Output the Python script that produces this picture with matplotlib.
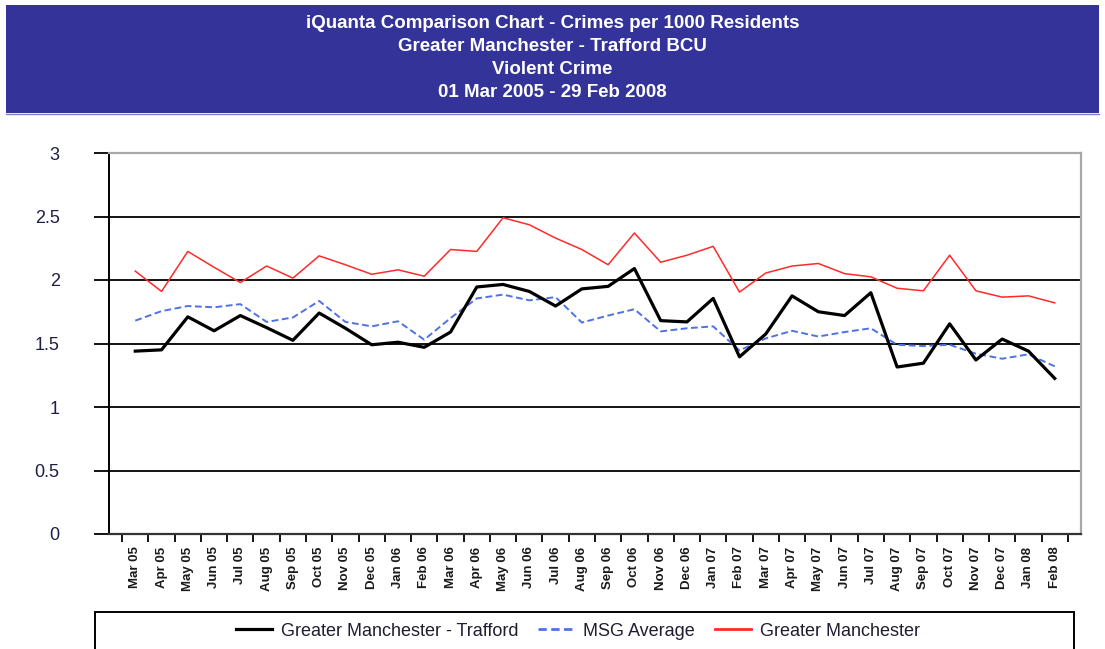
#!/usr/bin/env python3
"""
iQuanta comparison chart - violent crimes per 1000 residents, Trafford BCU
"""
import matplotlib
matplotlib.use("Agg")
import matplotlib.pyplot as plt
from matplotlib.patches import Rectangle
from matplotlib.lines import Line2D

plt.rcParams['font.family'] = ['Liberation Sans', 'DejaVu Sans']

months = ["Mar 05", "Apr 05", "May 05", "Jun 05", "Jul 05", "Aug 05", "Sep 05", "Oct 05",
          "Nov 05", "Dec 05", "Jan 06", "Feb 06", "Mar 06", "Apr 06", "May 06", "Jun 06",
          "Jul 06", "Aug 06", "Sep 06", "Oct 06", "Nov 06", "Dec 06", "Jan 07", "Feb 07",
          "Mar 07", "Apr 07", "May 07", "Jun 07", "Jul 07", "Aug 07", "Sep 07", "Oct 07",
          "Nov 07", "Dec 07", "Jan 08", "Feb 08"]

trafford = [1.44, 1.45, 1.71, 1.60, 1.72, 1.625, 1.525, 1.74, 1.62, 1.49, 1.51, 1.47,
            1.59, 1.945, 1.965, 1.91, 1.795, 1.93, 1.95, 2.09, 1.68, 1.67, 1.855, 1.395,
            1.575, 1.875, 1.75, 1.72, 1.90, 1.315, 1.345, 1.655, 1.37, 1.535, 1.44, 1.225]

msg_average = [1.68, 1.755, 1.795, 1.785, 1.81, 1.67, 1.705, 1.835, 1.67, 1.635, 1.675, 1.53,
               1.70, 1.855, 1.885, 1.84, 1.865, 1.665, 1.72, 1.77, 1.595, 1.62, 1.635, 1.445,
               1.54, 1.60, 1.555, 1.59, 1.62, 1.49, 1.48, 1.49, 1.42, 1.38, 1.415, 1.32]

greater_manchester = [2.07, 1.91, 2.225, 2.10, 1.98, 2.11, 2.015, 2.19, 2.12, 2.045, 2.08, 2.03,
                      2.24, 2.225, 2.49, 2.435, 2.33, 2.24, 2.12, 2.37, 2.14, 2.195, 2.265, 1.905,
                      2.055, 2.11, 2.13, 2.05, 2.025, 1.935, 1.915, 2.195, 1.915, 1.865, 1.875, 1.82]

title_lines = ["iQuanta Comparison Chart - Crimes per 1000 Residents",
               "Greater Manchester - Trafford BCU",
               "Violent Crime",
               "01 Mar 2005 - 29 Feb 2008"]

W, H = 1105, 649
fig = plt.figure(figsize=(W / 100, H / 100), dpi=100)

# title banner
fig.patches.append(Rectangle((6 / W, 1 - 113 / H), 1093 / W, 108 / H,
                             transform=fig.transFigure, facecolor='#333399',
                             edgecolor='none', zorder=0))
fig.add_artist(Line2D([6 / W, 1099 / W], [1 - 113.5 / H] * 2, color='#8282c0', lw=1))
for i, line in enumerate(title_lines):
    fig.text(0.5, 1 - (24 + 22.7 * i) / H, line, color='white', fontsize=13.5,
             fontweight='bold', ha='center', va='center')

ax = fig.add_axes([109 / W, 1 - 534 / H, 972 / W, 381 / H])
x = list(range(len(months)))

ax.plot(x, greater_manchester, color='#ff2a2a', lw=1.1, zorder=3)
ax.plot(x, msg_average, color='#4f72e3', lw=1.4, ls=(0, (3.5, 1.8)), zorder=3)
ax.plot(x, trafford, color='black', lw=2.3, zorder=4)

ax.set_xlim(-1, 36)
ax.set_ylim(0, 3)
ax.set_yticks([0, 0.5, 1, 1.5, 2, 2.5, 3])
ax.set_yticklabels(["0", "0.5", "1", "1.5", "2", "2.5", "3"])
for v in [0.5, 1, 1.5, 2, 2.5]:
    ax.axhline(v, color='black', lw=1.3, zorder=1)

ax.set_xticks(x)
ax.set_xticklabels(months, rotation=90, fontsize=9.5, fontweight='bold', color='#1a1a1a')
ax.set_xticks([k - 0.5 for k in range(len(months) + 1)], minor=True)
ax.tick_params(axis='x', which='major', length=0, pad=9)
ax.tick_params(axis='x', which='minor', length=6, width=1.3, direction='out', color='black')
ax.tick_params(axis='y', length=11, width=1.3, direction='out', pad=24.5,
               labelsize=13, labelcolor='#1e1e46')

ax.spines['left'].set_color('black')
ax.spines['left'].set_linewidth(1.4)
ax.spines['bottom'].set_color('#333333')
ax.spines['bottom'].set_linewidth(1.6)
ax.spines['top'].set_color('#a8a8a8')
ax.spines['top'].set_linewidth(1.6)
ax.spines['right'].set_color('#a8a8a8')
ax.spines['right'].set_linewidth(1.6)

# legend box runs off the bottom of the picture
fig.patches.append(Rectangle((95 / W, 1 - 665 / H), 979 / W, 53 / H,
                             transform=fig.transFigure, facecolor='white',
                             edgecolor='black', lw=1.4, zorder=0))
handles = [Line2D([], [], color='black', lw=2.3),
           Line2D([], [], color='#4f72e3', lw=2, ls=(0, (3, 1.6))),
           Line2D([], [], color='#ff2a2a', lw=2)]
fig.legend(handles, ["Greater Manchester - Trafford", "MSG Average", "Greater Manchester"],
           loc='center', bbox_to_anchor=(578 / W, 1 - 631 / H), ncol=3, frameon=False,
           fontsize=13, handlelength=2.0, handletextpad=0.5, columnspacing=1.1,
           labelcolor='#1e1e30')

fig.savefig("out.png", dpi=100)
